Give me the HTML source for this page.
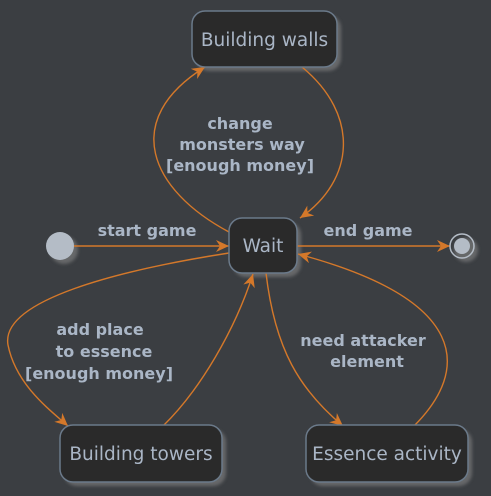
<!DOCTYPE html>
<html><head><meta charset="utf-8"><style>
html,body{margin:0;padding:0;background:#3b3e42;}
svg{display:block}
.n{fill:#2a2a2a;stroke:#6b7a8a;stroke-width:1.5}
.s{fill:#8a8a8a;opacity:.55}
.t{font-family:"DejaVu Sans","Liberation Sans",sans-serif;font-size:18.5px;fill:#aab6c6}
.l{font-family:"DejaVu Sans","Liberation Sans",sans-serif;font-size:16px;font-weight:bold;fill:#aab6c6}
.e{fill:none;stroke:#d4782a;stroke-width:1.4}
</style></head><body>
<svg width="491" height="496" viewBox="0 0 491 496">
<defs>
<marker id="a" markerWidth="14" markerHeight="12" refX="13" refY="6" orient="auto" markerUnits="userSpaceOnUse">
<path d="M0,0 L13,6 L0,12 L4,6 Z" fill="#d4782a"/></marker>
<filter id="b"><feGaussianBlur stdDeviation="1.5"/></filter>
</defs>
<rect width="491" height="496" fill="#3b3e42"/>
<g filter="url(#b)">
<rect class="s" x="196" y="15" width="145" height="56" rx="13"/>
<rect class="s" x="233" y="222" width="68" height="55" rx="13"/>
<rect class="s" x="64" y="429" width="162" height="57" rx="13"/>
<rect class="s" x="310" y="429" width="162" height="57" rx="13"/>
<circle class="s" cx="64" cy="250" r="14"/>
<circle class="s" cx="466" cy="250" r="12"/>
</g>
<path class="e" d="M74,246 L229,246" marker-end="url(#a)"/>
<path class="e" d="M297,246 L450,246" marker-end="url(#a)"/>
<path class="e" d="M229,232 C150,190 120,120 205,67" marker-end="url(#a)"/>
<path class="e" d="M302,67 C360,115 355,180 300,218" marker-end="url(#a)"/>
<path class="e" d="M229,253 C120,270 0,300 8,345 C16,385 50,410 68,426" marker-end="url(#a)"/>
<path class="e" d="M163,426 C200,390 235,330 253,274" marker-end="url(#a)"/>
<path class="e" d="M266,273 C275,350 300,390 343,426" marker-end="url(#a)"/>
<path class="e" d="M414,426 C470,370 470,300 298,254" marker-end="url(#a)"/>
<rect class="n" x="192" y="11" width="145" height="56" rx="13"/>
<text class="t" x="264.5" y="46" text-anchor="middle">Building walls</text>
<rect class="n" x="229" y="218" width="68" height="55" rx="13"/>
<text class="t" x="263" y="252" text-anchor="middle">Wait</text>
<rect class="n" x="60" y="425" width="162" height="57" rx="13"/>
<text class="t" x="141" y="460" text-anchor="middle">Building towers</text>
<rect class="n" x="306" y="425" width="162" height="57" rx="13"/>
<text class="t" x="387" y="460" text-anchor="middle">Essence activity</text>
<circle cx="60" cy="246" r="14" fill="#b4bcc6"/>
<circle cx="462" cy="246" r="12" fill="none" stroke="#b4bcc6" stroke-width="1.5"/>
<circle cx="462" cy="246" r="8" fill="#b4bcc6"/>
<text class="l" x="147" y="236" text-anchor="middle">start game</text>
<text class="l" x="368" y="236" text-anchor="middle">end game</text>
<text class="l" text-anchor="middle"><tspan x="240" y="129">change</tspan><tspan x="242" y="150">monsters way</tspan><tspan x="240" y="171">[enough money]</tspan></text>
<text class="l" text-anchor="middle"><tspan x="100" y="335">add place</tspan><tspan x="104" y="357">to essence</tspan><tspan x="99" y="379">[enough money]</tspan></text>
<text class="l" text-anchor="middle"><tspan x="363" y="346">need attacker</tspan><tspan x="367" y="367">element</tspan></text>
</svg>
</body></html>
